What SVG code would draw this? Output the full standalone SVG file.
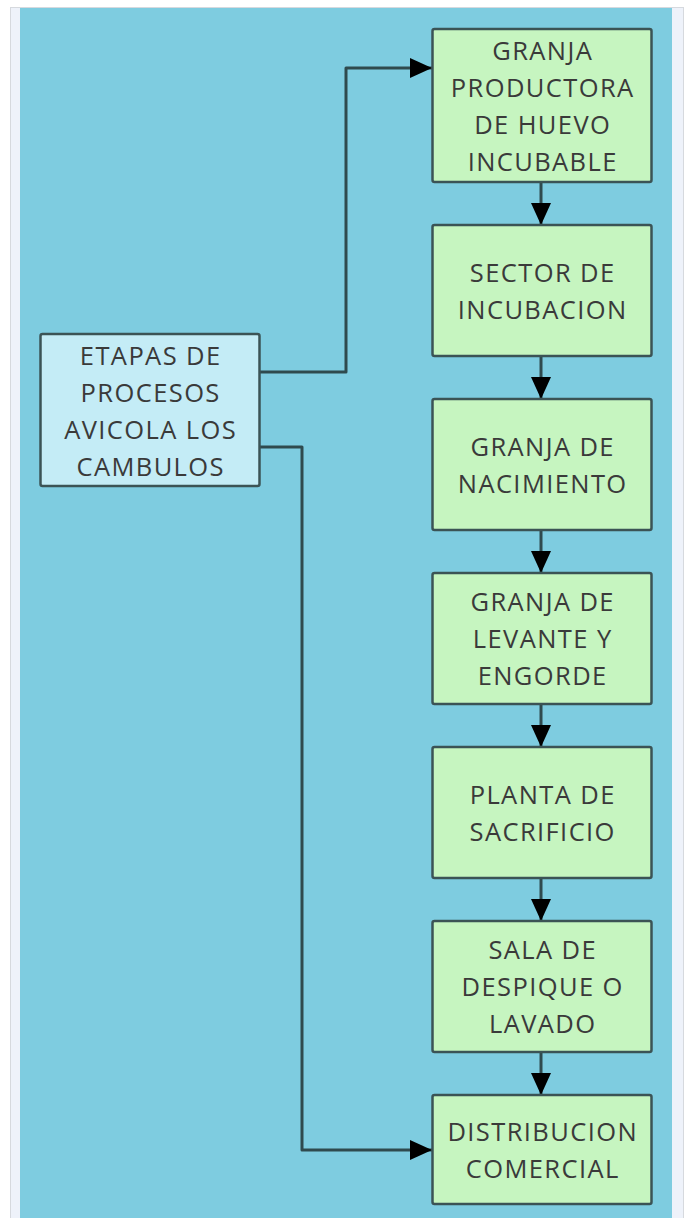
<svg xmlns="http://www.w3.org/2000/svg" width="690" height="1218" viewBox="0 0 690 1218">
<style>
.node rect{stroke:#3b5355;stroke-width:2.5}
.g rect{fill:#c6f5c0}
.b rect{fill:#c4ecf6}
text{font-family:"Open Sans","Noto Sans","DejaVu Sans",sans-serif;font-size:25.5px;letter-spacing:1.4px;fill:#3a3a3a;text-anchor:middle}
.conn path{fill:none;stroke:#2f4a4e;stroke-width:3;stroke-linejoin:round}
</style>
<defs>
<marker id="ah" markerUnits="userSpaceOnUse" markerWidth="22" markerHeight="20" refX="22" refY="10" orient="auto">
<path d="M0,0 L22,10 L0,20 Z" fill="#000"/>
</marker>
</defs>
<rect x="0" y="0" width="690" height="1218" fill="#ffffff"/>
<rect x="10.5" y="7.5" width="673" height="1220" fill="#eef2fa" stroke="#d6d9de" stroke-width="1"/>
<rect x="20" y="8" width="652" height="1210" fill="#7ecce0"/>
<g class="conn">
<path d="M259,372 H346 V68 H432" marker-end="url(#ah)"/>
<path d="M259,447 H302 V1150 H432" marker-end="url(#ah)"/>
<path d="M541,183 V225" marker-end="url(#ah)"/>
<path d="M541,356 V399" marker-end="url(#ah)"/>
<path d="M541,530 V573" marker-end="url(#ah)"/>
<path d="M541,704 V747" marker-end="url(#ah)"/>
<path d="M541,878 V921" marker-end="url(#ah)"/>
<path d="M541,1052 V1095" marker-end="url(#ah)"/>
</g>
<g id="n0" class="node b">
<rect x="40.5" y="334" width="219" height="152" rx="2"/>
<text x="150.7" y="365">ETAPAS DE</text>
<text x="150.7" y="402">PROCESOS</text>
<text x="150.7" y="439">AVICOLA LOS</text>
<text x="150.7" y="476">CAMBULOS</text>
</g>
<g id="n1" class="node g">
<rect x="432.5" y="29" width="219" height="153" rx="2"/>
<text x="542.7" y="60">GRANJA</text>
<text x="542.7" y="97">PRODUCTORA</text>
<text x="542.7" y="134">DE HUEVO</text>
<text x="542.7" y="171">INCUBABLE</text>
</g>
<g id="n2" class="node g">
<rect x="432.5" y="225" width="219" height="131" rx="2"/>
<text x="542.7" y="282">SECTOR DE</text>
<text x="542.7" y="319">INCUBACION</text>
</g>
<g id="n3" class="node g">
<rect x="432.5" y="399" width="219" height="131" rx="2"/>
<text x="542.7" y="456">GRANJA DE</text>
<text x="542.7" y="493">NACIMIENTO</text>
</g>
<g id="n4" class="node g">
<rect x="432.5" y="573" width="219" height="131" rx="2"/>
<text x="542.7" y="611">GRANJA DE</text>
<text x="542.7" y="648">LEVANTE Y</text>
<text x="542.7" y="685">ENGORDE</text>
</g>
<g id="n5" class="node g">
<rect x="432.5" y="747" width="219" height="131" rx="2"/>
<text x="542.7" y="804">PLANTA DE</text>
<text x="542.7" y="841">SACRIFICIO</text>
</g>
<g id="n6" class="node g">
<rect x="432.5" y="921" width="219" height="131" rx="2"/>
<text x="542.7" y="959">SALA DE</text>
<text x="542.7" y="996">DESPIQUE O</text>
<text x="542.7" y="1033">LAVADO</text>
</g>
<g id="n7" class="node g">
<rect x="432.5" y="1095" width="219" height="109" rx="2"/>
<text x="542.7" y="1141">DISTRIBUCION</text>
<text x="542.7" y="1178">COMERCIAL</text>
</g>
</svg>
